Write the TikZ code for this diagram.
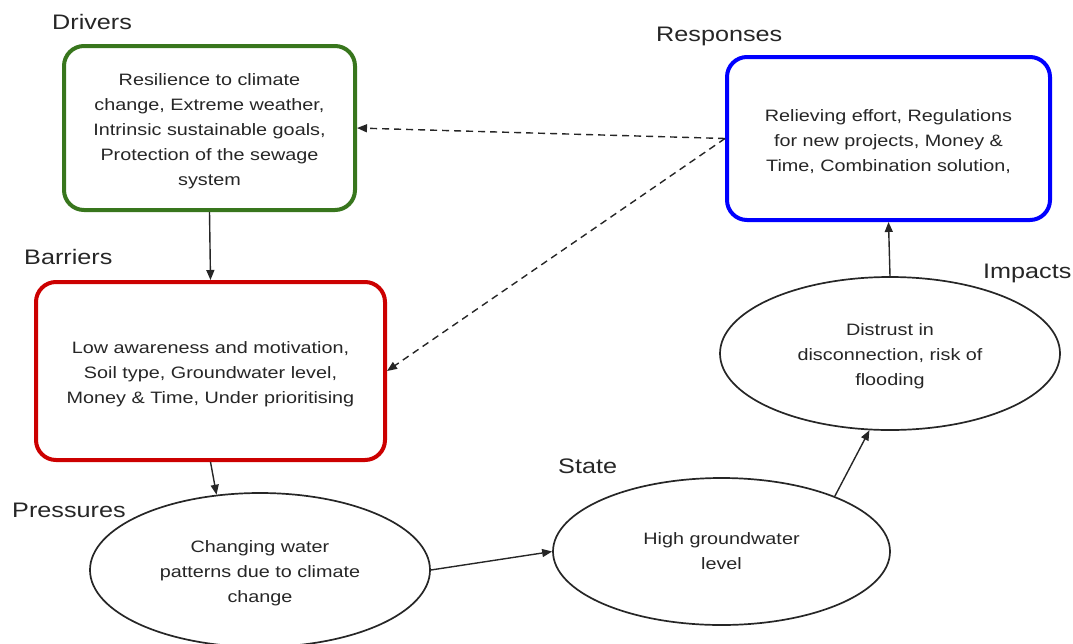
\documentclass[tikz,border=0pt]{standalone}
\usepackage{fontspec}
\setmainfont{Liberation Sans}[FakeStretch=1.2]
\usetikzlibrary{shapes.geometric,arrows.meta}
\definecolor{drvgreen}{HTML}{38761D}
\definecolor{barred}{HTML}{CC0000}
\definecolor{resblue}{HTML}{0000FF}
\definecolor{txt}{HTML}{262626}
\newcommand{\toppad}{\rule{0pt}{18pt}}
\begin{document}
\begin{tikzpicture}[x=1pt,y=-1pt,
  box/.style={draw, rounded corners=20pt, line width=4pt, align=center,
    text=txt, font=\fontsize{16.5}{25}\selectfont, inner sep=0pt},
  oval/.style={draw=txt, ellipse, line width=1.7pt, align=center,
    text=txt, font=\fontsize{16.5}{25}\selectfont, inner sep=0pt},
  heading/.style={anchor=west, inner sep=0pt, text=txt,
    font=\fontsize{21}{25}\selectfont},
  flow/.style={draw=txt, line width=1.4pt, -{Triangle[length=10pt,width=8pt]}},
  feedback/.style={draw=txt, line width=1.4pt, dash pattern=on 7pt off 5pt,
    -{Triangle[length=10pt,width=8pt]}}]
\path[use as bounding box] (0,0) rectangle (1073,643);

% DPSIR boxes
\node[box, draw=drvgreen, minimum width=291pt, minimum height=164pt] (drivers) at (209.5,128)
  {\toppad Resilience to climate\\change, Extreme weather,\\Intrinsic sustainable goals,\\Protection of the sewage\\system};
\node[box, draw=resblue, minimum width=323pt, minimum height=163pt] (responses) at (888.5,138.5)
  {\toppad Relieving effort, Regulations\\for new projects, Money \&\\Time, Combination solution,};
\node[box, draw=barred, minimum width=349pt, minimum height=178pt] (barriers) at (210.5,371)
  {\toppad Low awareness and motivation,\\Soil type, Groundwater level,\\Money \& Time, Under prioritising};

% Ellipses
\node[oval, minimum width=340pt, minimum height=154pt] (pressures) at (260,570)
  {\toppad Changing water\\patterns due to climate\\change};
\node[oval, minimum width=337pt, minimum height=147pt] (state) at (721.5,551.5)
  {High groundwater\\level};
\node[oval, minimum width=340pt, minimum height=153pt] (impacts) at (890,353.5)
  {\toppad Distrust in\\disconnection, risk of\\flooding};

% Headings
\node[heading] (hdrivers) at (52,22) {Drivers};
\node[heading] (hresponses) at (656,36) {Responses};
\node[heading] (hbarriers) at (24,257) {Barriers};
\node[heading] (hpressures) at (12,510) {Pressures};
\node[heading] (hstate) at (558,466) {State};
\node[heading] (himpacts) at (983,273) {Impacts};

% Causal chain
\draw[flow] (drivers.south) -- (barriers.north);
\draw[flow] (barriers.south) -- (pressures.120.6);
\draw[flow] (pressures.east) -- (state.west);
\draw[flow] (state.26) -- (impacts.255);
\draw[flow] (impacts.north) -- (responses.south);

% Feedback from responses
\draw[feedback] (responses.west) -- (drivers.east);
\draw[feedback] (responses.west) -- (barriers.east);
\end{tikzpicture}
\end{document}
